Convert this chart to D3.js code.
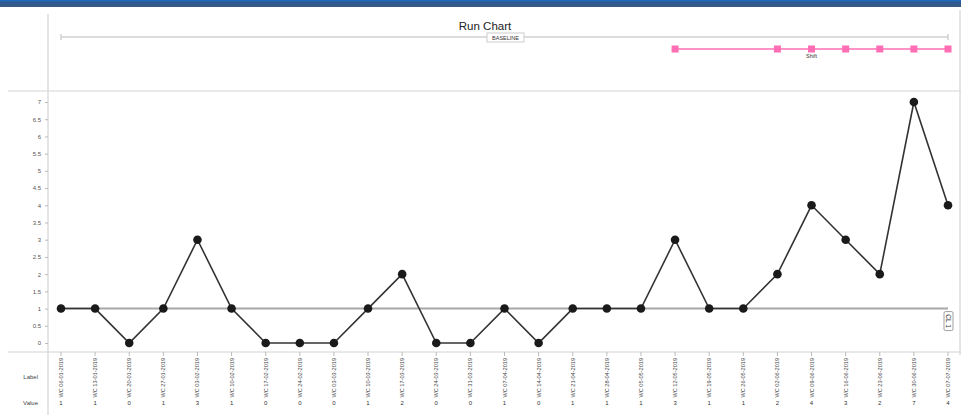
<!DOCTYPE html>
<html>
<head>
<meta charset="utf-8">
<script src="https://cdn.jsdelivr.net/npm/d3@7"></script>
<style>
  body { margin: 0; background: #fff; }
  svg { display: block; font-family: "Liberation Sans", Arial, sans-serif; }
</style>
</head>
<body>
<svg id="chart" width="961" height="415"></svg>
<script>
const width = 961;
const height = 415;

const weeks = ["06-01-2019", "13-01-2019", "20-01-2019", "27-01-2019", "03-02-2019", "10-02-2019",
  "17-02-2019", "24-02-2019", "03-03-2019", "10-03-2019", "17-03-2019", "24-03-2019", "31-03-2019",
  "07-04-2019", "14-04-2019", "21-04-2019", "28-04-2019", "05-05-2019", "12-05-2019", "19-05-2019",
  "26-05-2019", "02-06-2019", "09-06-2019", "16-06-2019", "23-06-2019", "30-06-2019", "07-07-2019"];
const values = [1, 1, 0, 1, 3, 1, 0, 0, 0, 1, 2, 0, 0, 1, 0, 1, 1, 1, 3, 1, 1, 2, 4, 3, 2, 7, 4];
const yTicks = [0, 0.5, 1, 1.5, 2, 2.5, 3, 3.5, 4, 4.5, 5, 5.5, 6, 6.5, 7];
const centreLine = 1;
const shiftPoints = [18, 21, 22, 23, 24, 25, 26];

const labels = weeks.map(w => "WC " + w);

const svg = d3.select("#chart");

// blue header strip
const grad = svg.append("defs").append("linearGradient")
  .attr("id", "hdr").attr("x1", 0).attr("x2", 0).attr("y1", 0).attr("y2", 1);
grad.append("stop").attr("offset", 0).attr("stop-color", "#1b6cc4");
grad.append("stop").attr("offset", 0.35).attr("stop-color", "#2d5a90");
grad.append("stop").attr("offset", 1).attr("stop-color", "#3a5a84");
svg.append("rect").attr("x", 0).attr("y", 0).attr("width", width).attr("height", 7)
  .attr("fill", "url(#hdr)");

const x = d3.scalePoint().domain(d3.range(values.length)).range([61, 948]);
const y = d3.scaleLinear().domain([0, 7]).range([343, 102]);

// frame lines
const frame = svg.append("g").attr("stroke", "#d4d4d4").attr("stroke-width", 1.2);
frame.append("line").attr("x1", 48).attr("x2", 48).attr("y1", 14).attr("y2", 415);
frame.append("line").attr("x1", 960).attr("x2", 960).attr("y1", 10).attr("y2", 355);
frame.append("line").attr("x1", 8).attr("x2", 961).attr("y1", 91).attr("y2", 91);
frame.append("line").attr("x1", 8).attr("x2", 961).attr("y1", 352).attr("y2", 352);

// title
svg.append("text").attr("x", 485).attr("y", 30).attr("text-anchor", "middle")
  .attr("font-size", 11.5).attr("fill", "#222").text("Run Chart");

// baseline bracket
const bl = svg.append("g").attr("stroke", "#d0d0d0").attr("stroke-width", 1.5);
bl.append("line").attr("x1", x(0)).attr("x2", x(values.length - 1)).attr("y1", 37).attr("y2", 37);
bl.append("line").attr("x1", x(0)).attr("x2", x(0)).attr("y1", 34).attr("y2", 40);
bl.append("line").attr("x1", x(values.length - 1)).attr("x2", x(values.length - 1)).attr("y1", 34).attr("y2", 40);
svg.append("rect").attr("x", 487).attr("y", 33).attr("width", 37).attr("height", 9)
  .attr("fill", "#fff").attr("stroke", "#ccc").attr("stroke-width", 1);
svg.append("text").attr("x", 505.5).attr("y", 40).attr("text-anchor", "middle")
  .attr("font-size", 5.5).attr("fill", "#333").text("BASELINE");

// shift line
const shiftY = 49;
svg.append("line")
  .attr("x1", x(shiftPoints[0])).attr("x2", x(shiftPoints[shiftPoints.length - 1]))
  .attr("y1", shiftY).attr("y2", shiftY)
  .attr("stroke", "#ff6eb4").attr("stroke-width", 1.5);
svg.append("g").selectAll("rect")
  .data(shiftPoints)
  .join("rect")
    .attr("x", d => x(d) - 3.5).attr("y", shiftY - 3.5)
    .attr("width", 7).attr("height", 7)
    .attr("fill", "#ff6eb4");
svg.append("text").attr("x", x(22)).attr("y", 58).attr("text-anchor", "middle")
  .attr("font-size", 5.5).attr("fill", "#333").text("Shift");

// y axis
const yAxis = svg.append("g")
  .attr("transform", "translate(48,0)")
  .call(d3.axisLeft(y).tickValues(yTicks).tickSize(3).tickPadding(4).tickFormat(d3.format("")));
yAxis.select(".domain").remove();
yAxis.selectAll(".tick line").attr("stroke", "#bbb");
yAxis.selectAll(".tick text").attr("font-size", 6).attr("fill", "#555")
  .attr("font-family", "Liberation Sans, Arial, sans-serif");

// x ticks
svg.append("g").attr("stroke", "#bbb").selectAll("line")
  .data(d3.range(values.length))
  .join("line")
    .attr("x1", d => x(d)).attr("x2", d => x(d))
    .attr("y1", 352).attr("y2", 356);

// centre line
svg.append("line")
  .attr("x1", x(0)).attr("x2", x(values.length - 1))
  .attr("y1", y(centreLine)).attr("y2", y(centreLine))
  .attr("stroke", "#a8a8a8").attr("stroke-width", 2);
const clg = svg.append("g")
  .attr("transform", `translate(${x(values.length - 1)},${y(centreLine) + 12}) rotate(90)`);
clg.append("rect").attr("x", -9).attr("y", -5).attr("width", 19).attr("height", 9)
  .attr("rx", 1.5).attr("fill", "#fff").attr("stroke", "#888").attr("stroke-width", 0.8);
clg.append("text").attr("x", 0.5).attr("y", 2).attr("text-anchor", "middle")
  .attr("font-size", 6.5).attr("fill", "#333").text("CL 1");

// run line and points
svg.append("path")
  .datum(values)
  .attr("fill", "none")
  .attr("stroke", "#333")
  .attr("stroke-width", 1.6)
  .attr("d", d3.line().x((d, i) => x(i)).y(d => y(d)));

svg.append("g").selectAll("circle")
  .data(values)
  .join("circle")
    .attr("cx", (d, i) => x(i)).attr("cy", d => y(d))
    .attr("r", 4.3)
    .attr("fill", "#1a1a1a");

// x labels
svg.append("g").selectAll("text")
  .data(labels)
  .join("text")
    .attr("transform", (d, i) => `translate(${x(i) + 2},358) rotate(-90)`)
    .attr("text-anchor", "end")
    .attr("font-size", 5.6)
    .attr("fill", "#444")
    .text(d => d);

svg.append("text").attr("x", 38).attr("y", 379).attr("text-anchor", "end")
  .attr("font-size", 6).attr("fill", "#444").text("Label");
svg.append("text").attr("x", 38).attr("y", 405).attr("text-anchor", "end")
  .attr("font-size", 6).attr("fill", "#444").text("Value");

svg.append("g").selectAll("text")
  .data(values)
  .join("text")
    .attr("x", (d, i) => x(i)).attr("y", 405)
    .attr("text-anchor", "middle")
    .attr("font-size", 6)
    .attr("fill", "#333")
    .text(d => d);
</script>
</body>
</html>
